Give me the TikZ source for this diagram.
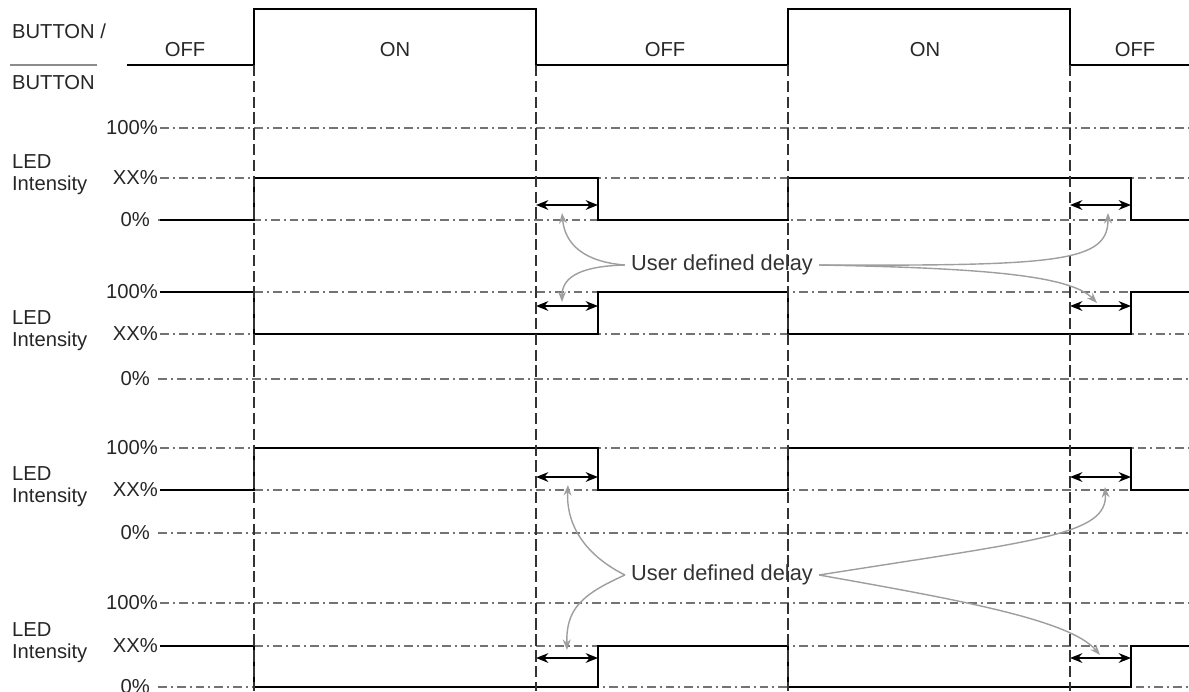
\documentclass[tikz,border=0pt]{standalone}
\usepackage{fontspec}
\setmainfont{Liberation Sans}
\usetikzlibrary{arrows,arrows.meta}

\begin{document}
\begin{tikzpicture}[x=0.02cm,y=-0.02cm,>=stealth',
  every node/.style={font=\fontsize{11.5}{13.5}\selectfont,text=black!85},
  side node/.style={anchor=west,align=left,inner sep=1pt},
  level node/.style={anchor=east,inner sep=1pt},
  note node/.style={font=\fontsize{12.4}{14}\selectfont,text=black!80},
  wave line/.style={line width=1.4pt,black},
  level line/.style={line width=1.1pt,black!55,dash pattern=on 5pt off 2.3pt on 1.1pt off 2.3pt},
  sync line/.style={line width=0.85pt,black!80,dash pattern=on 6.5pt off 2.5pt},
  delay arrow/.style={{Stealth[length=7pt,width=5.5pt]}-{Stealth[length=7pt,width=5.5pt]},line width=1.1pt,black},
  note line/.style={-{Stealth[length=6pt,width=4.5pt]},line width=0.8pt,black!38}]
  \useasboundingbox (0,0) rectangle (1189,691);

  % button signal
  \node[side node] (btn) at (10,31) {BUTTON /};
  \node[side node] (btnn) at (10,83) {BUTTON};
  \draw[line width=0.8pt,black!45] ([yshift=5pt]btnn.north west) -- ([yshift=5pt]btnn.north east);
  \draw[wave line] (127,65) -| (254,9) -| (536,65) -| (788,9) -| (1070,65) -- (1189,65);
  \node (1) at (185,50) {OFF};
  \node (2) at (395,50) {ON};
  \node (3) at (665,50) {OFF};
  \node (4) at (925,50) {ON};
  \node (5) at (1135,50) {OFF};

  % level lines, labels and waves of the four panels
  \foreach \a/\b/\c/\s/\h/\d in {128/178/220/220/178/205, 292/334/379/292/334/306,
      448/490/533/490/448/477, 603/646/687/646/687/658} {
    \draw[level line] (160,\a) -- (1189,\a);
    \draw[level line] (160,\b) -- (1189,\b);
    \draw[level line] (158,\c) -- (1189,\c);
    \node[level node] at (160,\a) {100\%};
    \node[level node] at (160,\b) {XX\%};
    \node[level node] at (152,\c) {0\%};
    \node[side node] at (10,\b-3) {LED\\[-1pt]Intensity};
    \draw[wave line] (160,\s) -| (254,\h) -| (598,\s) -| (788,\h) -| (1131,\s) -- (1189,\s);
    \draw[delay arrow] (536,\d) -- (598,\d);
    \draw[delay arrow] (1070,\d) -- (1131,\d);
  }

  % edges of the button
  \foreach \x in {254,536,788,1070}
    \draw[sync line] (\x,65) -- (\x,691);

  % delay notes
  \node[note node] (d1) at (722,265) {User defined delay};
  \node[note node] (d2) at (722,575) {User defined delay};
  \draw[note line] (d1.west) .. controls (585,262) and (565,245) .. (562,213);
  \draw[note line] (d1.west) .. controls (585,266) and (562,275) .. (562,302);
  \draw[note line] (d1.east) .. controls (1060,266) and (1108,262) .. (1108,213);
  \draw[note line] (d1.east) .. controls (980,268) and (1070,275) .. (1097,303);
  \draw[note line] (d2.west) .. controls (585,555) and (566,525) .. (568,485);
  \draw[note line] (d2.west) .. controls (580,595) and (566,610) .. (567,650);
  \draw[note line] (d2.east) .. controls (1040,540) and (1108,535) .. (1105,487);
  \draw[note line] (d2.east) .. controls (960,600) and (1070,620) .. (1100,655);
\end{tikzpicture}
\end{document}
